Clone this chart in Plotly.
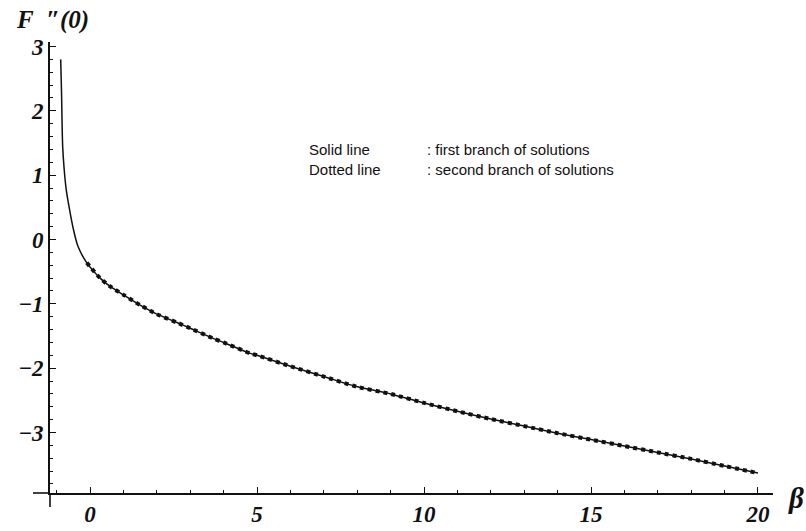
import plotly.graph_objects as go

# First branch of solutions (solid line): beta vs F''(0)
beta_first = [-0.88, -0.86, -0.85, -0.84, -0.82, -0.78, -0.72, -0.65, -0.5, -0.36,
              -0.1, 0.3, 0.6, 1.0, 1.5, 2.0, 2.6, 3.0, 3.7, 4.0, 4.8, 5.0, 6.0,
              7.0, 8.0, 9.0, 10.0, 11.0, 12.0, 13.0, 14.0, 15.0, 16.0, 17.0,
              18.0, 19.0, 20.0]
f_first = [2.80, 2.40, 2.17, 1.85, 1.44, 1.12, 0.80, 0.57, 0.16, -0.11,
           -0.36, -0.60, -0.73, -0.86, -1.02, -1.16, -1.29, -1.38, -1.54, -1.60,
           -1.77, -1.80, -1.97, -2.13, -2.29, -2.40, -2.54, -2.67, -2.79, -2.90,
           -3.01, -3.11, -3.21, -3.31, -3.41, -3.52, -3.63]

# Second branch of solutions (dotted line)
beta_second = [-0.1, 0.3, 0.6, 1.0, 1.5, 2.0, 2.6, 3.0, 3.7, 4.0, 4.8, 5.0, 6.0,
               7.0, 8.0, 9.0, 10.0, 11.0, 12.0, 13.0, 14.0, 15.0, 16.0, 17.0,
               18.0, 19.0, 20.0]
f_second = [-0.36, -0.60, -0.73, -0.86, -1.02, -1.16, -1.29, -1.38, -1.54, -1.60,
            -1.77, -1.80, -1.97, -2.13, -2.29, -2.40, -2.54, -2.67, -2.79, -2.90,
            -3.01, -3.11, -3.21, -3.31, -3.41, -3.52, -3.63]

x_ticks = [0, 5, 10, 15, 20]
y_ticks = [-3, -2, -1, 0, 1, 2, 3]

legend_names = ["Solid line", "Dotted line"]
legend_desc = [": first branch of solutions", ": second branch of solutions"]

INK = "#111111"
tick_font = dict(family="Liberation Serif", size=23, color=INK,
                 weight="bold", style="italic")
key_font = dict(family="Liberation Sans", size=15, color=INK)

fig = go.Figure()
fig.add_trace(go.Scatter(x=beta_first, y=f_first, mode="lines",
                         line=dict(color=INK, width=1.5, shape="spline", smoothing=0.6),
                         showlegend=False, hoverinfo="skip"))
fig.add_trace(go.Scatter(x=beta_second, y=f_second, mode="lines",
                         line=dict(color=INK, width=4, dash="dot",
                                   shape="spline", smoothing=0.6),
                         showlegend=False, hoverinfo="skip"))

fig.update_layout(
    width=806, height=531,
    margin=dict(l=50, r=33, t=42, b=38),
    paper_bgcolor="white", plot_bgcolor="white",
    font=dict(family="Liberation Sans", color=INK),
    xaxis=dict(range=[-1.2, 20.45], tickvals=x_ticks,
               ticktext=[str(v) for v in x_ticks],
               showgrid=False, zeroline=False, automargin=False,
               showline=True, linecolor=INK, linewidth=1.6,
               ticks="inside", ticklen=6, tickwidth=1.4, tickcolor=INK,
               minor=dict(dtick=1, tick0=0, ticks="inside", ticklen=3,
                          tickwidth=1, tickcolor=INK, showgrid=False),
               tickfont=tick_font, fixedrange=True),
    yaxis=dict(range=[-3.94, 3.07], tickvals=y_ticks,
               ticktext=[str(v) if v >= 0 else "\u2212" + str(-v) for v in y_ticks],
               showgrid=False, zeroline=False, automargin=False,
               showline=True, linecolor=INK, linewidth=1.6,
               ticks="inside", ticklen=6, tickwidth=1.4, tickcolor=INK,
               minor=dict(dtick=0.2, tick0=0, ticks="inside", ticklen=3,
                          tickwidth=1, tickcolor=INK, showgrid=False),
               tickfont=tick_font, fixedrange=True),
)

# Axis stubs extending past the crossing point
fig.add_shape(type="line", xref="paper", yref="paper",
              x0=-0.0235, x1=0, y0=0, y1=0, line=dict(color=INK, width=1.6))
fig.add_shape(type="line", xref="paper", yref="paper",
              x0=0, x1=0, y0=-0.031, y1=0, line=dict(color=INK, width=1.6))

# Axis titles
fig.add_annotation(text="F\u00a0\u00a0\u2033(0)", xref="paper", yref="paper",
                   x=0.004, y=1.049, xanchor="center", yanchor="middle",
                   showarrow=False,
                   font=dict(family="Liberation Serif", size=25, color=INK,
                             weight="bold", style="italic"))
fig.add_annotation(text="\u03b2", xref="paper", yref="paper",
                   x=1.032, y=-0.012, xanchor="center", yanchor="middle",
                   showarrow=False,
                   font=dict(family="Liberation Serif", size=29, color=INK,
                             weight="bold", style="italic"))

# Line-style key
key_y = [0.7627, 0.7162]
for name, desc, yy in zip(legend_names, legend_desc, key_y):
    fig.add_annotation(text=name, xref="paper", yref="paper", x=0.3555, y=yy,
                       xanchor="left", yanchor="middle", showarrow=False,
                       font=key_font)
    fig.add_annotation(text=desc, xref="paper", yref="paper", x=0.5187, y=yy,
                       xanchor="left", yanchor="middle", showarrow=False,
                       font=key_font)

fig.write_html("out.html")
